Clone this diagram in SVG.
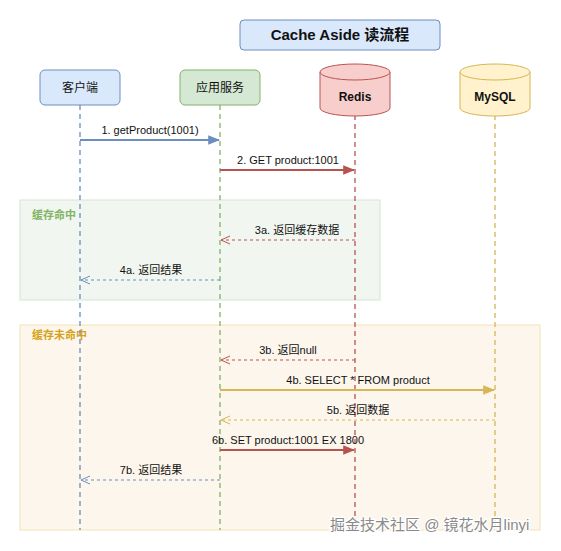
<svg xmlns="http://www.w3.org/2000/svg" width="561" height="551" viewBox="0 0 561 551">
<style>
text{font-family:"Liberation Sans",Arial,"Noto Sans CJK SC",sans-serif;fill:#111;}
.lbl{font-size:11px;text-anchor:middle;}
.life{fill:none;stroke-width:1.3;stroke-dasharray:5 4;}
.msg{fill:none;stroke-width:2;}
.ret{fill:none;stroke-width:1;stroke-dasharray:3 3;}
</style>
<defs>
<marker id="aR" viewBox="0 0 10 10" refX="9" refY="5" markerWidth="12" markerHeight="12" markerUnits="userSpaceOnUse" orient="auto"><path d="M0,1 L10,5 L0,9 z" fill="#b85450"/></marker>
<marker id="aBl" viewBox="0 0 10 10" refX="9" refY="5" markerWidth="12" markerHeight="12" markerUnits="userSpaceOnUse" orient="auto"><path d="M0,1 L10,5 L0,9 z" fill="#6c8ebf"/></marker>
<marker id="aY" viewBox="0 0 10 10" refX="9" refY="5" markerWidth="12" markerHeight="12" markerUnits="userSpaceOnUse" orient="auto"><path d="M0,1 L10,5 L0,9 z" fill="#d6b656"/></marker>
<marker id="oR" viewBox="0 0 10 10" refX="9" refY="5" markerWidth="10" markerHeight="10" markerUnits="userSpaceOnUse" orient="auto"><path d="M0,1 L9,5 L0,9" fill="none" stroke="#b85450" stroke-width="1"/></marker>
<marker id="oB" viewBox="0 0 10 10" refX="9" refY="5" markerWidth="10" markerHeight="10" markerUnits="userSpaceOnUse" orient="auto"><path d="M0,1 L9,5 L0,9" fill="none" stroke="#6c8ebf" stroke-width="1"/></marker>
<marker id="oY" viewBox="0 0 10 10" refX="9" refY="5" markerWidth="10" markerHeight="10" markerUnits="userSpaceOnUse" orient="auto"><path d="M0,1 L9,5 L0,9" fill="none" stroke="#d6b656" stroke-width="1"/></marker>
</defs>
<rect width="561" height="551" fill="#ffffff"/>

<g id="group-hit">
<rect x="20" y="200" width="360" height="100" fill="#f1f7f0" stroke="#d5e3d3" stroke-width="1"/>
<text x="32" y="219" style="font-size:11px;font-weight:bold;fill:#82b366">缓存命中</text>
</g>
<g id="group-miss">
<rect x="20" y="325" width="520" height="205" fill="#fdf6ec" stroke="#f3e2b6" stroke-width="1"/>
<text x="32" y="339" style="font-size:11px;font-weight:bold;fill:#d6a21a">缓存未命中</text>
</g>

<g id="title">
<rect x="240" y="20" width="200" height="30" rx="4" fill="#dae8fc" stroke="#6c8ebf"/>
<text x="340" y="40" style="font-size:15px;font-weight:bold;text-anchor:middle">Cache Aside 读流程</text>
</g>

<g id="lifelines">
<line class="life" x1="80" y1="105" x2="80" y2="530" stroke="#6c8ebf"/>
<line class="life" x1="220" y1="105" x2="220" y2="530" stroke="#82b366"/>
<line class="life" x1="355" y1="115" x2="355" y2="530" stroke="#b85450"/>
<line class="life" x1="495" y1="115" x2="495" y2="530" stroke="#d6b656"/>
</g>

<g id="client">
<rect x="40" y="70" width="80" height="35" rx="5" fill="#dae8fc" stroke="#6c8ebf"/>
<text x="80" y="92" style="font-size:12px;text-anchor:middle">客户端</text>
</g>
<g id="app">
<rect x="180" y="70" width="80" height="35" rx="5" fill="#d5e8d4" stroke="#82b366"/>
<text x="220" y="92" style="font-size:12px;text-anchor:middle">应用服务</text>
</g>
<g id="redis">
<path d="M320,72 L320,108 A35,8 0 0 0 390,108 L390,72" fill="#f8cecc" stroke="#b85450"/>
<ellipse cx="355" cy="72" rx="35" ry="8" fill="#f8cecc" stroke="#b85450"/>
<text x="355" y="101" style="font-size:12px;font-weight:bold;text-anchor:middle">Redis</text>
</g>
<g id="mysql">
<path d="M460,72 L460,108 A35,8 0 0 0 530,108 L530,72" fill="#fff2cc" stroke="#d6b656"/>
<ellipse cx="495" cy="72" rx="35" ry="8" fill="#fff2cc" stroke="#d6b656"/>
<text x="495" y="101" style="font-size:12px;font-weight:bold;text-anchor:middle">MySQL</text>
</g>

<g id="connectors">
<line class="msg" x1="80" y1="140" x2="219" y2="140" stroke="#6c8ebf" marker-end="url(#aBl)"/>
<text class="lbl" x="150" y="134">1. getProduct(1001)</text>

<line class="msg" x1="220" y1="170" x2="354" y2="170" stroke="#b85450" marker-end="url(#aR)"/>
<text class="lbl" x="288" y="164">2. GET product:1001</text>

<line class="ret" x1="355" y1="240" x2="221" y2="240" stroke="#b85450" marker-end="url(#oR)"/>
<text class="lbl" x="297" y="234">3a. 返回缓存数据</text>

<line class="ret" x1="220" y1="280" x2="81" y2="280" stroke="#6c8ebf" marker-end="url(#oB)"/>
<text class="lbl" x="151" y="274">4a. 返回结果</text>

<line class="ret" x1="355" y1="360" x2="221" y2="360" stroke="#b85450" marker-end="url(#oR)"/>
<text class="lbl" x="288" y="354">3b. 返回null</text>

<line class="msg" x1="220" y1="390" x2="494" y2="390" stroke="#d6b656" marker-end="url(#aY)"/>
<text class="lbl" x="358" y="384">4b. SELECT * FROM product</text>

<line class="ret" x1="495" y1="420" x2="221" y2="420" stroke="#d6b656" marker-end="url(#oY)"/>
<text class="lbl" x="358" y="414">5b. 返回数据</text>

<line class="msg" x1="220" y1="450" x2="354" y2="450" stroke="#b85450" marker-end="url(#aR)"/>
<text class="lbl" x="288" y="444">6b. SET product:1001 EX 1800</text>

<line class="ret" x1="220" y1="480" x2="81" y2="480" stroke="#6c8ebf" marker-end="url(#oB)"/>
<text class="lbl" x="151" y="474">7b. 返回结果</text>
</g>

<text x="330" y="530" style="font-size:15px;fill:#8a8a8a;stroke:#ffffff;stroke-width:2.5;paint-order:stroke">掘金技术社区 @ 镜花水月linyi</text>
</svg>
